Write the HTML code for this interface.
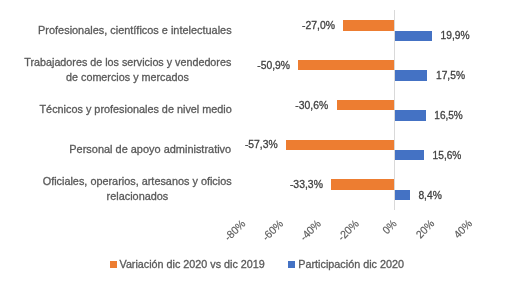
<!DOCTYPE html>
<html><head><meta charset="utf-8"><style>
html,body{margin:0;padding:0;background:#fff;width:517px;height:290px;overflow:hidden}
svg{display:block}
text{font-family:"Liberation Sans",sans-serif;stroke-width:0.3px;paint-order:stroke}
svg{will-change:transform}
</style></head><body>
<svg width="517" height="290" viewBox="0 0 517 290">
<rect x="0" y="0" width="517" height="290" fill="#fff"/>
<rect x="343" y="20" width="51" height="11" fill="#ED7D31"/>
<rect x="395" y="31" width="37" height="10" fill="#4472C4"/>
<rect x="298" y="60" width="96" height="10" fill="#ED7D31"/>
<rect x="395" y="70" width="32" height="11" fill="#4472C4"/>
<rect x="337" y="100" width="57" height="10" fill="#ED7D31"/>
<rect x="395" y="110" width="31" height="11" fill="#4472C4"/>
<rect x="286" y="140" width="108" height="10" fill="#ED7D31"/>
<rect x="395" y="150" width="29" height="10" fill="#4472C4"/>
<rect x="331" y="179" width="63" height="11" fill="#ED7D31"/>
<rect x="395" y="190" width="15" height="10" fill="#4472C4"/>
<rect x="394" y="10" width="1" height="200" fill="#D9D9D9"/>
<text x="38.10" y="33.80" font-size="11" fill="#595959" stroke="#595959" textLength="193.50" lengthAdjust="spacingAndGlyphs">Profesionales, científicos e intelectuales</text>
<text x="24.30" y="66.20" font-size="11" fill="#595959" stroke="#595959" textLength="207.00" lengthAdjust="spacingAndGlyphs">Trabajadores de los servicios y vendedores</text>
<text x="66.00" y="80.90" font-size="11" fill="#595959" stroke="#595959" textLength="122.90" lengthAdjust="spacingAndGlyphs">de comercios y mercados</text>
<text x="39.50" y="113.10" font-size="11" fill="#595959" stroke="#595959" textLength="192.30" lengthAdjust="spacingAndGlyphs">Técnicos y profesionales de nivel medio</text>
<text x="69.30" y="152.90" font-size="11" fill="#595959" stroke="#595959" textLength="161.90" lengthAdjust="spacingAndGlyphs">Personal de apoyo administrativo</text>
<text x="42.70" y="185.10" font-size="11" fill="#595959" stroke="#595959" textLength="189.00" lengthAdjust="spacingAndGlyphs">Oficiales, operarios, artesanos y oficios</text>
<text x="106.60" y="200.00" font-size="11" fill="#595959" stroke="#595959" textLength="61.70" lengthAdjust="spacingAndGlyphs">relacionados</text>
<text x="302.00" y="28.90" font-size="11" fill="#404040" stroke="#404040" textLength="33.00" lengthAdjust="spacingAndGlyphs">-27,0%</text>
<text x="257.20" y="68.80" font-size="11" fill="#404040" stroke="#404040" textLength="32.80" lengthAdjust="spacingAndGlyphs">-50,9%</text>
<text x="295.30" y="108.90" font-size="11" fill="#404040" stroke="#404040" textLength="32.90" lengthAdjust="spacingAndGlyphs">-30,6%</text>
<text x="244.90" y="148.00" font-size="11" fill="#404040" stroke="#404040" textLength="32.80" lengthAdjust="spacingAndGlyphs">-57,3%</text>
<text x="289.90" y="188.00" font-size="11" fill="#404040" stroke="#404040" textLength="33.00" lengthAdjust="spacingAndGlyphs">-33,3%</text>
<text x="440.60" y="39.00" font-size="11" fill="#404040" stroke="#404040" textLength="29.10" lengthAdjust="spacingAndGlyphs">19,9%</text>
<text x="436.00" y="79.00" font-size="11" fill="#404040" stroke="#404040" textLength="29.00" lengthAdjust="spacingAndGlyphs">17,5%</text>
<text x="434.30" y="119.00" font-size="11" fill="#404040" stroke="#404040" textLength="28.50" lengthAdjust="spacingAndGlyphs">16,5%</text>
<text x="432.60" y="158.70" font-size="11" fill="#404040" stroke="#404040" textLength="28.80" lengthAdjust="spacingAndGlyphs">15,6%</text>
<text x="418.40" y="198.90" font-size="11" fill="#404040" stroke="#404040" textLength="23.40" lengthAdjust="spacingAndGlyphs">8,4%</text>
<text x="246.10" y="224.30" font-size="11" fill="#595959" stroke="#595959" style="stroke-width:0.15px" text-anchor="end" textLength="24.41" lengthAdjust="spacingAndGlyphs" transform="rotate(-45 246.10 224.30)">-80%</text>
<text x="283.90" y="224.30" font-size="11" fill="#595959" stroke="#595959" style="stroke-width:0.15px" text-anchor="end" textLength="24.41" lengthAdjust="spacingAndGlyphs" transform="rotate(-45 283.90 224.30)">-60%</text>
<text x="321.70" y="224.30" font-size="11" fill="#595959" stroke="#595959" style="stroke-width:0.15px" text-anchor="end" textLength="24.41" lengthAdjust="spacingAndGlyphs" transform="rotate(-45 321.70 224.30)">-40%</text>
<text x="359.50" y="224.30" font-size="11" fill="#595959" stroke="#595959" style="stroke-width:0.15px" text-anchor="end" textLength="24.41" lengthAdjust="spacingAndGlyphs" transform="rotate(-45 359.50 224.30)">-20%</text>
<text x="397.30" y="224.30" font-size="11" fill="#595959" stroke="#595959" style="stroke-width:0.15px" text-anchor="end" textLength="14.66" lengthAdjust="spacingAndGlyphs" transform="rotate(-45 397.30 224.30)">0%</text>
<text x="435.10" y="224.30" font-size="11" fill="#595959" stroke="#595959" style="stroke-width:0.15px" text-anchor="end" textLength="20.74" lengthAdjust="spacingAndGlyphs" transform="rotate(-45 435.10 224.30)">20%</text>
<text x="472.90" y="224.30" font-size="11" fill="#595959" stroke="#595959" style="stroke-width:0.15px" text-anchor="end" textLength="20.74" lengthAdjust="spacingAndGlyphs" transform="rotate(-45 472.90 224.30)">40%</text>
<rect x="110" y="261" width="7" height="7" fill="#ED7D31"/>
<text x="119.50" y="268.00" font-size="11" fill="#595959" stroke="#595959" textLength="145.30" lengthAdjust="spacingAndGlyphs">Variación dic 2020 vs dic 2019</text>
<rect x="288" y="261" width="7" height="7" fill="#4472C4"/>
<text x="298.30" y="268.00" font-size="11" fill="#595959" stroke="#595959" textLength="105.70" lengthAdjust="spacingAndGlyphs">Participación dic 2020</text>
</svg>
</body></html>
